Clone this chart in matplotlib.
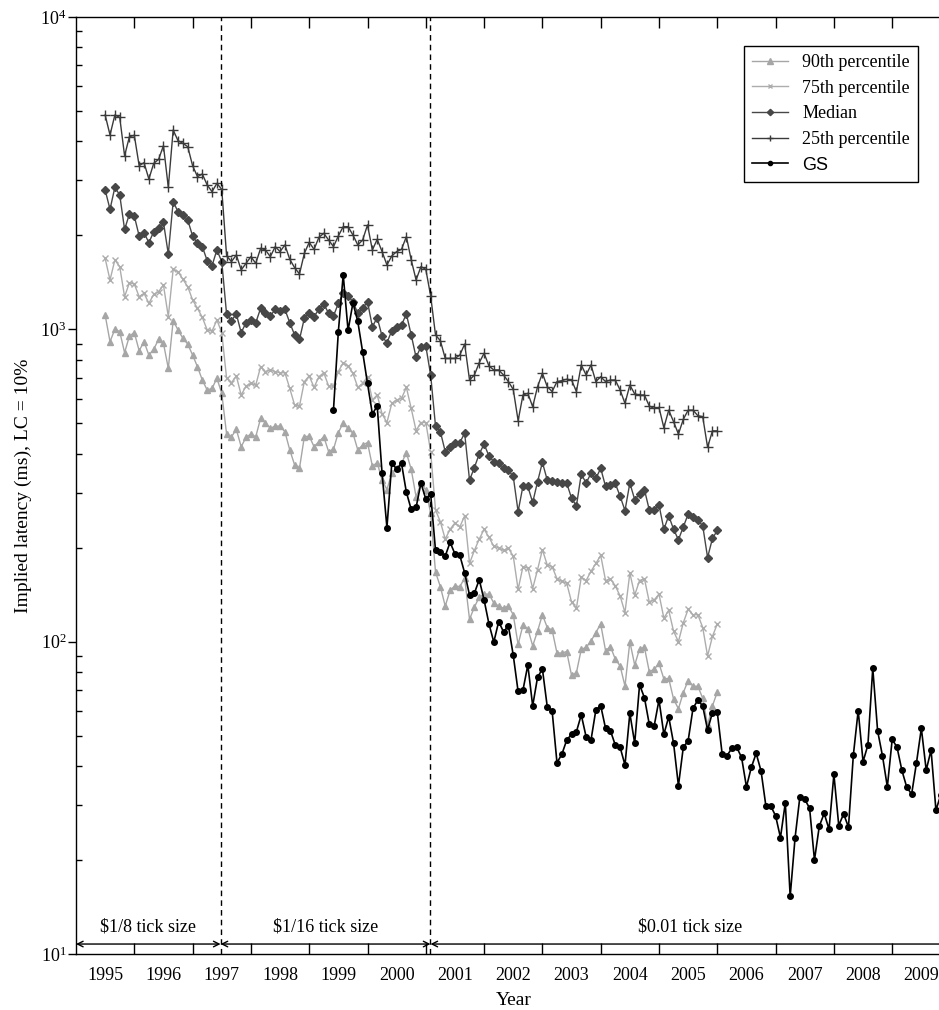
import numpy as np
import matplotlib.pyplot as plt
from matplotlib.ticker import FixedLocator, NullFormatter, LogLocator, FixedFormatter

plt.rcParams['font.family'] = ['Liberation Serif', 'DejaVu Serif']
plt.rcParams['mathtext.fontset'] = 'custom'
plt.rcParams['mathtext.rm'] = 'Liberation Serif'
plt.rcParams['mathtext.it'] = 'Liberation Serif:italic'

# monthly implied latency (ms), June 1995 - Dec 2005
p90 = [1111, 913, 1000, 983, 842, 952, 976, 854, 913, 827, 863, 929, 902, 750, 1066, 995, 936, 897, 827, 759,
       688, 639, 647, 697, 624,
       462, 453, 478, 421, 451, 462, 453, 519, 502, 482, 490, 490, 470, 411, 368, 359, 453, 455, 421, 437,
       453, 406, 413, 467, 502, 482, 465, 411, 426, 434, 365, 374, 329, 307, 346, 361, 372, 403, 356, 291,
       321, 306, 258,
       167, 150, 130, 146, 151, 150, 160, 118, 129, 139, 142, 142, 133, 130, 128, 130, 122, 98, 113, 110,
       97, 108, 122, 111, 109, 92, 92, 93, 78, 79.6, 94.5, 95.9, 100.5, 107, 114, 93.6, 96.4, 88, 83.6, 72.1,
       100, 84.2, 94.8, 95.9, 80.2, 81.6, 85.2, 76, 76.3, 65.5, 61, 68.7, 75.1, 72, 72, 65.9, 54.1, 62.3, 69]
p75 = [1687, 1438, 1667, 1587, 1272, 1410, 1396, 1272, 1304, 1211, 1294, 1319, 1386, 1098, 1556, 1529, 1445,
       1369, 1241, 1167, 1092, 995, 987, 1071, 976,
       697, 675, 709, 616, 658, 671, 663, 759, 732, 741, 732, 726, 726, 647, 572, 568, 680, 709, 652, 705,
       726, 658, 658, 732, 782, 763, 723, 652, 671, 705, 594, 616, 536, 503, 579, 594, 601, 652, 558, 474,
       503, 503, 406,
       264, 242, 213, 229, 240, 233, 253, 178, 196, 213, 229, 216, 202, 200, 196, 199, 188, 147, 174, 172,
       148, 170, 197, 176, 174, 159, 156, 154, 134, 128, 161, 157, 168, 178, 189, 157, 159, 151, 140, 124,
       166, 141, 157, 159, 134, 136, 142, 119, 126, 108, 100, 115, 127, 122, 122, 111, 90, 104, 114]
median = [2792, 2421, 2847, 2691, 2089, 2339, 2305, 1989, 2039, 1894, 2054, 2105, 2200, 1742, 2563, 2379, 2322,
          2238, 1989, 1885, 1839, 1659, 1599, 1794, 1647,
          1117, 1066, 1119, 976, 1050, 1071, 1050, 1167, 1125, 1103, 1158, 1147, 1158, 1050, 959, 928, 1085,
          1130, 1098, 1160,
          1205, 1125, 1103, 1211, 1304, 1278, 1226, 1125, 1167, 1226, 1019, 1090, 950, 906, 990, 1014, 1032,
          1119, 959, 813, 880, 884, 714,
          490, 470, 406, 421, 431, 434, 465, 329, 361, 399, 429, 393, 377, 372, 361, 354, 338, 261, 315, 314,
          279, 325, 375, 329, 328, 325, 321, 322, 288, 272, 344, 322, 346, 333, 359, 314, 317, 321, 292, 263,
          322, 285, 297, 307, 264, 264, 274, 229, 253, 229, 212, 233, 256, 251, 245, 235, 186, 214, 227]
p25 = [4853, 4188, 4853, 4770, 3594, 4137, 4178, 3340, 3415, 3027, 3398, 3499, 3870, 2848, 4345, 4016, 3938,
       3842, 3340, 3081, 3141, 2897, 2758, 2932, 2805,
       1717, 1647, 1730, 1549, 1626, 1708, 1626, 1817, 1794, 1708, 1839, 1773, 1862, 1675, 1575, 1503, 1750,
       1898, 1803, 1970,
       2029, 1931, 1839, 1990, 2131, 2131, 2004, 1862, 1931, 2158, 1794, 1941, 1773, 1607, 1717, 1773, 1803,
       1980, 1667, 1439, 1587, 1556, 1279,
       959, 919, 807, 807, 807, 827, 897, 688, 714, 782, 838, 763, 741, 741, 714, 680, 642, 510, 616, 624,
       565, 655, 723, 655, 632, 680, 685, 692, 688, 632, 769, 714, 769, 680, 705, 680, 688, 688, 639, 579,
       663, 621, 616, 616, 568, 558, 562, 484, 551, 506, 462, 515, 551, 551, 529, 525, 419, 473, 473]
# GS, May 1999 - Oct 2009
gs = [553, 983, 1495, 992, 1214, 1060, 846, 671, 536, 568, 346, 232, 373, 357, 372, 301, 265, 269, 322, 286,
      297, 196, 194, 188, 208, 191, 189, 166, 141, 143, 158, 136, 114, 99.7, 116, 107.5, 112.5, 90.5, 69.3, 70,
      84.2, 62.3, 76.9, 81.8, 61.9, 60.1, 41, 43.6, 48.4, 50.6, 51.5, 58.3, 49.6, 48.4, 60.4, 62.4, 52.8, 51.9,
      46.7, 45.9, 40.3, 59, 47.3, 72.8, 66.2, 54.4, 53.7, 65.1, 50.5, 57.5, 47.3, 34.6, 45.9, 48.2, 61.2, 65.1,
      62.2, 52.2, 59.3, 59.4, 43.7, 43.2, 45.6, 45.9, 42.6, 34.3, 39.6, 43.9, 38.6, 29.8, 29.8, 27.7, 23.6,
      30.5, 15.3, 23.5, 31.9, 31.3, 29.3, 20.0, 25.7, 28.2, 25.1, 37.6, 25.8, 28.1, 25.5, 43.3, 60.2, 41.3,
      46.7, 82.2, 51.8, 43.1, 34.3, 48.7, 45.9, 38.7, 34.2, 32.5, 41.0, 52.8, 38.8, 45.0, 28.9, 32.3]

# tick size regimes: 1/16 from June 24 1997, decimals from Jan 29 2001
regime_breaks = [1997.48, 2001.08]
regime_labels = ['$1/8 tick size', '$1/16 tick size', '$0.01 tick size']
years = list(range(1995, 2010))


def months(y0, m0, n):
    # month-end positions as decimal years
    return np.array([y0 + (m0 + k) / 12 for k in range(n)])


t_pct = months(1995, 6, len(p25))
t_gs = months(1999, 5, len(gs))

fig = plt.figure(figsize=(9.39, 10.10), dpi=100)
ax = fig.add_axes([76 / 939, 55.9 / 1010, 874.5 / 939, 937.2 / 1010])

ax.plot(t_pct, p90, color='#a6a6a6', lw=1.0, marker='^', ms=5, mec='#a6a6a6', label='90th percentile')
ax.plot(t_pct, p75, color='#adadad', lw=1.0, marker='x', ms=3.8, mew=1.0, label='75th percentile')
ax.plot(t_pct, median, color='#474747', lw=1.0, marker='D', ms=4.3, label='Median')
ax.plot(t_pct, p25, color='#3a3a3a', lw=1.0, marker='+', ms=6.5, mew=1.0, label='25th percentile')
ax.plot(t_gs, gs, color='black', lw=1.2, marker='o', ms=4.0, label='GS')

ax.set_yscale('log')
ax.set_xlim(1995, 2010)
ax.set_ylim(10, 1e4)

for b in regime_breaks:
    ax.axvline(b, color='black', lw=1.0, ls=(0, (4, 3)))

edges = [1995] + regime_breaks + [2010]
arrow_y, text_y = 10.77, 12.2
for left, right, lab in zip(edges[:-1], edges[1:], regime_labels):
    ax.annotate('', xy=(left, arrow_y), xytext=(right, arrow_y),
                arrowprops=dict(arrowstyle='<->', lw=1.0, color='black', shrinkA=0, shrinkB=0,
                                mutation_scale=10))
    ax.text((left + right) / 2, text_y, lab.replace('$', r'\$'), ha='center', va='center', fontsize=13)

# year boundaries as ticks, labels in the middle of each year
ax.xaxis.set_major_locator(FixedLocator(years[1:]))
ax.xaxis.set_major_formatter(NullFormatter())
ax.xaxis.set_minor_locator(FixedLocator([y + 0.5 for y in years]))
ax.xaxis.set_minor_formatter(FixedFormatter([str(y) for y in years]))
ax.tick_params(axis='x', which='major', direction='in', length=8, width=1, top=True, bottom=True)
ax.tick_params(axis='x', which='minor', length=0, pad=9, labelsize=13)

ax.yaxis.set_major_locator(LogLocator(base=10))
ax.yaxis.set_minor_locator(LogLocator(base=10, subs=np.arange(2, 10)))
ax.yaxis.set_minor_formatter(NullFormatter())
ax.tick_params(axis='y', which='major', direction='out', length=6, width=1, pad=1, labelsize=13)
ax.tick_params(axis='y', which='minor', direction='in', length=4, width=1, right=True)

for s in ax.spines.values():
    s.set_linewidth(1.0)

ax.set_xlabel('Year', fontsize=14, labelpad=6)
ax.set_ylabel('Implied latency (ms), LC = 10%', fontsize=14, labelpad=6)

leg = ax.legend(loc='upper right', bbox_to_anchor=(0.963, 0.969), borderaxespad=0, fontsize=13,
                numpoints=1, frameon=True, fancybox=False, edgecolor='black', framealpha=1,
                handlelength=2.0, labelspacing=0.48, borderpad=0.45, markerscale=0.75)
leg.get_frame().set_linewidth(1.0)
leg.get_texts()[-1].set_family('Liberation Sans')

fig.savefig('out.png', dpi=100)
